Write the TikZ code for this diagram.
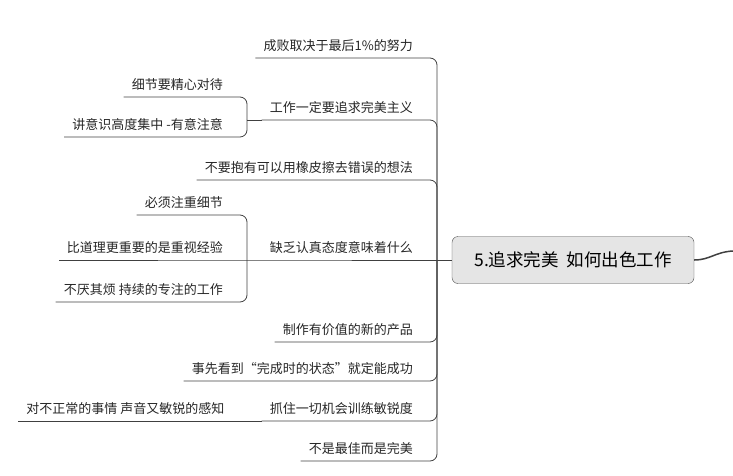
\documentclass[tikz,border=0pt]{standalone}
\usepackage{fontspec}
\setmainfont{Noto Sans CJK SC}
\usetikzlibrary{positioning}
\tikzset{
  topic/.style = {anchor=south east, inner xsep=8pt, inner ysep=6.5pt, font=\fontsize{13}{15}\selectfont, text=black!85},
  branch/.style = {draw=black!75, line width=0.8pt, rounded corners=7pt},
  central/.style = {draw=black!70, fill=black!10, rounded corners=6pt, minimum width=242pt, minimum height=47pt, font=\fontsize{17.5}{20}\selectfont}
}
\begin{document}
\begin{tikzpicture}[x=1pt,y=-1pt]
  \useasboundingbox (0,0) rectangle (733,476);
  \node[central] (root) at (573,260) {5.追求完美\ \ 如何出色工作};
  \coordinate (hub) at (437,260);
  \coordinate (hubb) at (247,120);
  \coordinate (hubd) at (247,260);
  % main topics
  \node[topic] (t1) at (421,58) {成败取决于最后1\%的努力};
  \node[topic] (t2) at (421,120) {工作一定要追求完美主义};
  \node[topic] (t3) at (421,180) {不要抱有可以用橡皮擦去错误的想法};
  \node[topic] (t4) at (421,260) {缺乏认真态度意味着什么};
  \node[topic] (t5) at (421,342) {制作有价值的新的产品};
  \node[topic] (t6) at (421,381) {事先看到“完成时的状态”就定能成功};
  \node[topic] (t7) at (421,421) {抓住一切机会训练敏锐度};
  \node[topic] (t8) at (421,461) {不是最佳而是完美};
  % sub topics
  \node[topic] (t2a) at (231,97) {细节要精心对待};
  \node[topic] (t2b) at (231,137) {讲意识高度集中 -有意注意};
  \node[topic] (t4a) at (231,215) {必须注重细节};
  \node[topic] (t4b) at (231,260) {比道理更重要的是重视经验};
  \node[topic] (t4c) at (231,302) {不厌其烦 持续的专注的工作};
  \node[topic] (t7a) at (t7.south west) [xshift=-29pt] {对不正常的事情 声音又敏锐的感知};
  % connectors
  \draw[branch] (root.west) -- (hub);
  \foreach \n in {t1,t2,t3,t5,t6,t7,t8}
    \draw[branch] (hub) |- (\n.south west);
  \draw[branch] (hub) -- (t4.south west) -- (t4b.south west);
  \foreach \n in {t2a,t2b}
    \draw[branch] (hubb) |- (\n.south west);
  \draw[branch] (t2.south west) -- (hubb);
  \foreach \n in {t4a,t4c}
    \draw[branch] (hubd) |- (\n.south west);
  \draw[branch] (t7.south west) -- (t7a.south west);
  \draw[draw=black!75, line width=1.5pt] (root.east) .. controls (710,260) and (715,252) .. (733,251);
\end{tikzpicture}
\end{document}
